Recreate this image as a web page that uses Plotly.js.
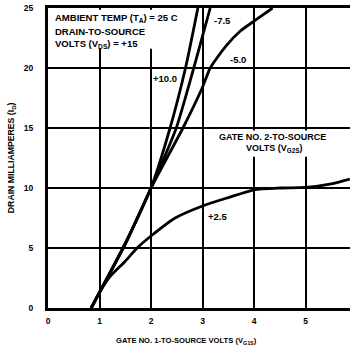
<!DOCTYPE html>
<html>
<head>
<meta charset="utf-8">
<script src="https://cdn.plot.ly/plotly-3.0.1.min.js"></script>
<style>html,body{margin:0;padding:0;background:#fff;}#chart{width:350px;height:353px;}</style>
</head>
<body>
<div id="chart"></div>
<script>
// Gate No.1-to-source volts (x) vs drain milliamperes (y), one series per gate-2 voltage
const vg1_p100 = [0.84, 1.0, 1.5, 2.0, 2.37, 2.67, 2.91];
const id_p100  = [0, 1.3, 5.4, 10, 15, 20, 25];
const vg1_p75  = [0.84, 1.0, 1.5, 2.0, 2.49, 2.83, 3.15];
const id_p75   = [0, 1.3, 5.35, 10, 15, 20, 25];
const vg1_p50  = [0.84, 1.0, 1.5, 2.0, 2.62, 3.0, 3.15, 3.45, 3.74, 4.0, 4.36];
const id_p50   = [0, 1.3, 5.3, 10, 15, 18.4, 20, 21.8, 23.1, 23.9, 25];
const vg1_p25  = [0.84, 1.0, 1.2, 1.5, 1.73, 2.0, 2.47, 3.0, 3.5, 4.0, 4.5, 5.0, 5.5, 5.86];
const id_p25   = [0, 1.3, 2.6, 3.9, 5, 6.0, 7.5, 8.5, 9.2, 9.85, 10.0, 10.05, 10.35, 10.75];

const seriesLabels = ['+10.0', '-7.5', '-5.0', '+2.5'];
const xTicks = [0, 1, 2, 3, 4, 5];
const yTicks = [0, 5, 10, 15, 20, 25];

const FONT = 'Liberation Sans, Arial, sans-serif';
const lineStyle = {color: '#000', width: 2.8, shape: 'spline', smoothing: 0.6};

const traces = [
  {x: vg1_p100, y: id_p100, name: seriesLabels[0]},
  {x: vg1_p75,  y: id_p75,  name: seriesLabels[1]},
  {x: vg1_p50,  y: id_p50,  name: seriesLabels[2]},
  {x: vg1_p25,  y: id_p25,  name: seriesLabels[3]}
].map(t => Object.assign(t, {type: 'scatter', mode: 'lines', line: lineStyle, hoverinfo: 'skip'}));

const lblFont = {family: FONT, size: 9.5, color: '#000', weight: 'bold'};
const boxFont = {family: FONT, size: 9.5, color: '#000', weight: 'bold'};
const g2Font = {family: FONT, size: 9, color: '#000', weight: 'bold'};

function note(text, x, y, opts) {
  return Object.assign({text: text, x: x, y: y, xref: 'x', yref: 'y', showarrow: false,
    font: lblFont, xanchor: 'center', yanchor: 'middle'}, opts || {});
}

const layout = {
  width: 350, height: 353,
  margin: {l: 48, r: 0, t: 8, b: 45, pad: 0},
  paper_bgcolor: '#fff', plot_bgcolor: '#fff',
  showlegend: false,
  font: {family: FONT, size: 8, color: '#000', weight: 'bold'},
  xaxis: {
    range: [0, 5.864], tickvals: xTicks, ticktext: xTicks.map(String),
    showgrid: true, gridcolor: '#000', gridwidth: 2,
    showline: true, linecolor: '#000', linewidth: 3, mirror: true,
    zeroline: false, ticks: '', ticklabelstandoff: 3,
    tickfont: {family: FONT, size: 8.5, color: '#000', weight: 'bold'},
    fixedrange: true
  },
  yaxis: {
    range: [0, 25], tickvals: yTicks, ticktext: yTicks.map(String),
    showgrid: true, gridcolor: '#000', gridwidth: 2,
    showline: true, linecolor: '#000', linewidth: 3, mirror: false,
    zeroline: false, ticks: '', ticklabelstandoff: 10,
    tickfont: {family: FONT, size: 8.5, color: '#000', weight: 'bold'},
    fixedrange: true
  },
  shapes: [
    {type: 'rect', xref: 'x', yref: 'y', x0: 0.04, x1: 2.66, y0: 21.6, y1: 24.85,
     fillcolor: '#fff', line: {width: 0}, layer: 'above'},
    {type: 'rect', xref: 'x', yref: 'y', x0: 3.25, x1: 5.55, y0: 12.6, y1: 14.8,
     fillcolor: '#fff', line: {width: 0}, layer: 'above'}
  ],
  annotations: [
    note('AMBIENT TEMP (T<sub>A</sub>) = 25 C', 0.1, 24.2, {xanchor: 'left', font: boxFont}),
    note('DRAIN-TO-SOURCE', 0.1, 23.05, {xanchor: 'left', font: boxFont}),
    note('VOLTS (V<sub>DS</sub>) = +15', 0.1, 22.0, {xanchor: 'left', font: boxFont}),
    note('GATE NO. 2-TO-SOURCE', 4.36, 14.25, {font: g2Font}),
    note('VOLTS (V<sub>G2S</sub>)', 4.38, 13.3, {font: g2Font}),
    note(seriesLabels[0], 2.28, 19.1),
    note(seriesLabels[1], 3.39, 24.0),
    note(seriesLabels[2], 3.68, 20.75),
    note(seriesLabels[3], 3.29, 7.6),
    {text: 'GATE NO. 1-TO-SOURCE VOLTS (V<sub>G1S</sub>)', xref: 'paper', yref: 'paper',
     x: 0.459, y: -0.11, xanchor: 'center', yanchor: 'middle', showarrow: false,
     font: {family: FONT, size: 7.6, color: '#000', weight: 'bold'}},
    {text: 'DRAIN MILLIAMPERES (I<sub>D</sub>)', xref: 'paper', yref: 'paper',
     x: -0.122, y: 0.5, xanchor: 'center', yanchor: 'middle', textangle: -90,
     showarrow: false, font: {family: FONT, size: 8.7, color: '#000', weight: 'bold'}}
  ]
};

Plotly.newPlot('chart', traces, layout, {staticPlot: true, displayModeBar: false});
</script>
</body>
</html>
